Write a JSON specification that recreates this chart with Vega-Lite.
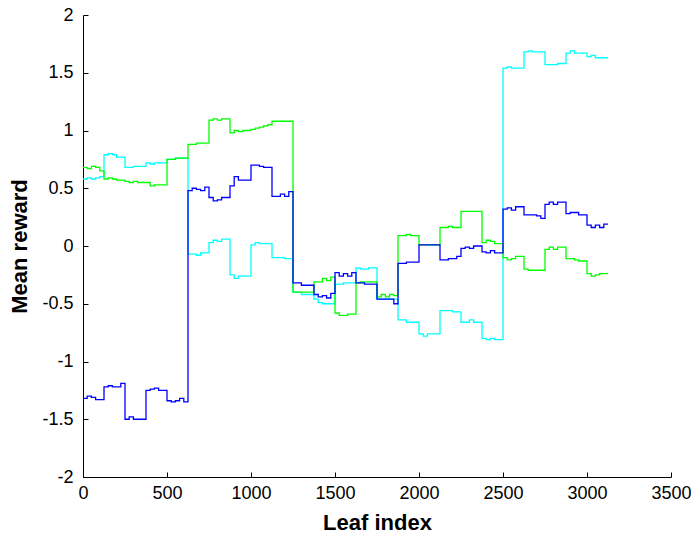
{
  "$schema": "https://vega.github.io/schema/vega-lite/v6.json",
  "width": 588,
  "height": 462,
  "autosize": {"type": "none"},
  "padding": {"left": 83, "top": 15, "right": 20, "bottom": 62},
  "background": "white",
  "config": {"view": {"stroke": null}, "font": "Liberation Sans"},
  "data": {"values": [
    {"s":"c","x":0,"y":0.58},{"s":"c","x":25,"y":0.59},{"s":"c","x":50,"y":0.58},{"s":"c","x":75,"y":0.59},{"s":"c","x":100,"y":0.6},
    {"s":"c","x":125,"y":0.79},{"s":"c","x":150,"y":0.8},{"s":"c","x":175,"y":0.79},{"s":"c","x":200,"y":0.77},
    {"s":"c","x":250,"y":0.68},{"s":"c","x":300,"y":0.69},
    {"s":"c","x":375,"y":0.72},{"s":"c","x":400,"y":0.71},{"s":"c","x":425,"y":0.72},
    {"s":"c","x":500,"y":0.75},{"s":"c","x":550,"y":0.76},
    {"s":"c","x":625,"y":-0.07},{"s":"c","x":675,"y":-0.08},{"s":"c","x":700,"y":-0.06},
    {"s":"c","x":750,"y":0.03},{"s":"c","x":775,"y":0.05},{"s":"c","x":800,"y":0.04},{"s":"c","x":825,"y":0.06},
    {"s":"c","x":875,"y":-0.25},{"s":"c","x":900,"y":-0.28},{"s":"c","x":925,"y":-0.26},
    {"s":"c","x":1000,"y":0.01},{"s":"c","x":1025,"y":0.03},{"s":"c","x":1050,"y":0.02},
    {"s":"c","x":1125,"y":-0.1},{"s":"c","x":1200,"y":-0.11},
    {"s":"c","x":1250,"y":-0.4},{"s":"c","x":1300,"y":-0.42},
    {"s":"c","x":1375,"y":-0.46},{"s":"c","x":1400,"y":-0.49},{"s":"c","x":1425,"y":-0.5},
    {"s":"c","x":1500,"y":-0.33},{"s":"c","x":1550,"y":-0.32},
    {"s":"c","x":1625,"y":-0.19},{"s":"c","x":1650,"y":-0.2},{"s":"c","x":1700,"y":-0.19},
    {"s":"c","x":1750,"y":-0.46},
    {"s":"c","x":1875,"y":-0.64},{"s":"c","x":1925,"y":-0.66},
    {"s":"c","x":2000,"y":-0.76},{"s":"c","x":2025,"y":-0.78},{"s":"c","x":2050,"y":-0.76},
    {"s":"c","x":2125,"y":-0.56},{"s":"c","x":2200,"y":-0.57},
    {"s":"c","x":2250,"y":-0.66},{"s":"c","x":2300,"y":-0.64},{"s":"c","x":2325,"y":-0.66},
    {"s":"c","x":2375,"y":-0.8},{"s":"c","x":2400,"y":-0.81},{"s":"c","x":2425,"y":-0.8},{"s":"c","x":2450,"y":-0.81},
    {"s":"c","x":2500,"y":1.54},{"s":"c","x":2525,"y":1.55},{"s":"c","x":2550,"y":1.54},
    {"s":"c","x":2625,"y":1.68},{"s":"c","x":2650,"y":1.69},{"s":"c","x":2675,"y":1.68},
    {"s":"c","x":2750,"y":1.57},{"s":"c","x":2825,"y":1.58},
    {"s":"c","x":2875,"y":1.67},{"s":"c","x":2900,"y":1.69},{"s":"c","x":2925,"y":1.67},
    {"s":"c","x":3000,"y":1.64},{"s":"c","x":3025,"y":1.65},{"s":"c","x":3050,"y":1.63},{"s":"c","x":3125,"y":1.63},

    {"s":"g","x":0,"y":0.68},{"s":"g","x":25,"y":0.67},{"s":"g","x":50,"y":0.69},{"s":"g","x":75,"y":0.68},{"s":"g","x":100,"y":0.65},
    {"s":"g","x":125,"y":0.58},{"s":"g","x":150,"y":0.59},{"s":"g","x":175,"y":0.58},{"s":"g","x":200,"y":0.57},
    {"s":"g","x":250,"y":0.56},{"s":"g","x":275,"y":0.55},{"s":"g","x":300,"y":0.56},{"s":"g","x":325,"y":0.55},
    {"s":"g","x":375,"y":0.55},{"s":"g","x":400,"y":0.52},{"s":"g","x":425,"y":0.53},
    {"s":"g","x":500,"y":0.75},{"s":"g","x":550,"y":0.76},
    {"s":"g","x":625,"y":0.88},{"s":"g","x":675,"y":0.89},
    {"s":"g","x":750,"y":1.09},{"s":"g","x":775,"y":1.1},{"s":"g","x":800,"y":1.09},{"s":"g","x":825,"y":1.1},
    {"s":"g","x":875,"y":0.98},{"s":"g","x":900,"y":1.0},{"s":"g","x":925,"y":0.99},{"s":"g","x":950,"y":1.0},
    {"s":"g","x":1000,"y":1.01},{"s":"g","x":1025,"y":1.02},{"s":"g","x":1050,"y":1.03},{"s":"g","x":1075,"y":1.04},{"s":"g","x":1100,"y":1.05},
    {"s":"g","x":1125,"y":1.08},
    {"s":"g","x":1250,"y":-0.4},
    {"s":"g","x":1375,"y":-0.31},{"s":"g","x":1425,"y":-0.28},{"s":"g","x":1450,"y":-0.3},{"s":"g","x":1475,"y":-0.27},
    {"s":"g","x":1500,"y":-0.58},{"s":"g","x":1525,"y":-0.6},{"s":"g","x":1575,"y":-0.59},
    {"s":"g","x":1625,"y":-0.32},{"s":"g","x":1650,"y":-0.31},
    {"s":"g","x":1750,"y":-0.44},{"s":"g","x":1775,"y":-0.42},{"s":"g","x":1800,"y":-0.44},{"s":"g","x":1825,"y":-0.42},{"s":"g","x":1850,"y":-0.43},
    {"s":"g","x":1875,"y":0.09},{"s":"g","x":1925,"y":0.1},{"s":"g","x":1950,"y":0.09},
    {"s":"g","x":2000,"y":0.01},
    {"s":"g","x":2125,"y":0.16},{"s":"g","x":2175,"y":0.17},{"s":"g","x":2200,"y":0.16},
    {"s":"g","x":2250,"y":0.3},
    {"s":"g","x":2375,"y":0.03},{"s":"g","x":2400,"y":0.05},{"s":"g","x":2425,"y":0.04},{"s":"g","x":2450,"y":0.02},
    {"s":"g","x":2500,"y":-0.1},{"s":"g","x":2525,"y":-0.12},{"s":"g","x":2550,"y":-0.11},{"s":"g","x":2575,"y":-0.09},
    {"s":"g","x":2625,"y":-0.2},{"s":"g","x":2650,"y":-0.21},
    {"s":"g","x":2750,"y":-0.03},{"s":"g","x":2775,"y":-0.01},{"s":"g","x":2800,"y":-0.03},{"s":"g","x":2825,"y":-0.01},
    {"s":"g","x":2875,"y":-0.11},{"s":"g","x":2925,"y":-0.12},{"s":"g","x":2950,"y":-0.13},
    {"s":"g","x":3000,"y":-0.24},{"s":"g","x":3025,"y":-0.26},{"s":"g","x":3050,"y":-0.25},{"s":"g","x":3075,"y":-0.24},{"s":"g","x":3125,"y":-0.24},

    {"s":"b","x":0,"y":-1.32},{"s":"b","x":25,"y":-1.3},{"s":"b","x":50,"y":-1.31},{"s":"b","x":75,"y":-1.33},
    {"s":"b","x":125,"y":-1.22},{"s":"b","x":150,"y":-1.21},{"s":"b","x":175,"y":-1.22},{"s":"b","x":225,"y":-1.19},
    {"s":"b","x":250,"y":-1.5},{"s":"b","x":275,"y":-1.48},{"s":"b","x":300,"y":-1.5},
    {"s":"b","x":375,"y":-1.25},{"s":"b","x":400,"y":-1.24},{"s":"b","x":425,"y":-1.23},{"s":"b","x":450,"y":-1.25},
    {"s":"b","x":500,"y":-1.34},{"s":"b","x":525,"y":-1.35},{"s":"b","x":550,"y":-1.34},{"s":"b","x":575,"y":-1.32},{"s":"b","x":600,"y":-1.35},
    {"s":"b","x":625,"y":0.48},{"s":"b","x":650,"y":0.5},{"s":"b","x":675,"y":0.49},{"s":"b","x":700,"y":0.48},{"s":"b","x":725,"y":0.51},
    {"s":"b","x":750,"y":0.42},{"s":"b","x":775,"y":0.39},{"s":"b","x":800,"y":0.4},{"s":"b","x":825,"y":0.42},
    {"s":"b","x":875,"y":0.52},{"s":"b","x":900,"y":0.6},{"s":"b","x":925,"y":0.57},
    {"s":"b","x":1000,"y":0.7},{"s":"b","x":1050,"y":0.69},{"s":"b","x":1075,"y":0.68},
    {"s":"b","x":1125,"y":0.43},{"s":"b","x":1175,"y":0.45},{"s":"b","x":1200,"y":0.43},{"s":"b","x":1225,"y":0.47},
    {"s":"b","x":1250,"y":-0.32},{"s":"b","x":1300,"y":-0.34},
    {"s":"b","x":1375,"y":-0.42},{"s":"b","x":1400,"y":-0.44},{"s":"b","x":1425,"y":-0.43},{"s":"b","x":1450,"y":-0.45},{"s":"b","x":1475,"y":-0.41},
    {"s":"b","x":1500,"y":-0.23},{"s":"b","x":1525,"y":-0.26},{"s":"b","x":1550,"y":-0.24},{"s":"b","x":1575,"y":-0.26},{"s":"b","x":1600,"y":-0.23},
    {"s":"b","x":1625,"y":-0.32},{"s":"b","x":1675,"y":-0.33},
    {"s":"b","x":1750,"y":-0.46},{"s":"b","x":1850,"y":-0.5},
    {"s":"b","x":1875,"y":-0.15},{"s":"b","x":1925,"y":-0.14},
    {"s":"b","x":2000,"y":0.01},
    {"s":"b","x":2125,"y":-0.12},{"s":"b","x":2175,"y":-0.11},{"s":"b","x":2225,"y":-0.09},
    {"s":"b","x":2250,"y":-0.02},{"s":"b","x":2275,"y":-0.01},{"s":"b","x":2300,"y":-0.02},{"s":"b","x":2325,"y":0.0},
    {"s":"b","x":2375,"y":-0.05},{"s":"b","x":2400,"y":-0.06},{"s":"b","x":2425,"y":-0.04},{"s":"b","x":2450,"y":-0.06},
    {"s":"b","x":2500,"y":0.32},{"s":"b","x":2525,"y":0.33},{"s":"b","x":2550,"y":0.31},{"s":"b","x":2575,"y":0.34},
    {"s":"b","x":2625,"y":0.27},{"s":"b","x":2700,"y":0.26},{"s":"b","x":2725,"y":0.24},
    {"s":"b","x":2750,"y":0.36},{"s":"b","x":2775,"y":0.38},{"s":"b","x":2800,"y":0.36},{"s":"b","x":2825,"y":0.38},
    {"s":"b","x":2875,"y":0.28},{"s":"b","x":2900,"y":0.29},{"s":"b","x":2950,"y":0.27},
    {"s":"b","x":3000,"y":0.18},{"s":"b","x":3025,"y":0.16},{"s":"b","x":3050,"y":0.18},{"s":"b","x":3075,"y":0.16},{"s":"b","x":3100,"y":0.19},{"s":"b","x":3125,"y":0.19}
  ]},
  "encoding": {
    "x": {"field": "x", "type": "quantitative",
      "scale": {"domain": [0, 3500], "nice": false, "zero": false},
      "axis": {"title": "Leaf index", "values": [0,500,1000,1500,2000,2500,3000,3500],
        "labelExpr": "datum.value + ''", "grid": false, "tickSize": -5, "labelPadding": 12,
        "domainColor": "black", "tickColor": "black", "labelColor": "black",
        "labelFontSize": 18, "labelFont": "Liberation Sans", "labelFlush": false, "labelOverlap": false,
        "titleFontSize": 22, "titleFontWeight": "bold", "titleFont": "Liberation Sans", "titleColor": "black", "titlePadding": 10}},
    "y": {"field": "y", "type": "quantitative",
      "scale": {"domain": [-2, 2], "nice": false, "zero": false},
      "axis": {"title": "Mean reward", "values": [-2,-1.5,-1,-0.5,0,0.5,1,1.5,2],
        "labelExpr": "datum.value + ''", "grid": false, "tickSize": -5, "labelPadding": 15,
        "domainColor": "black", "tickColor": "black", "labelColor": "black",
        "labelFontSize": 18, "labelFont": "Liberation Sans", "labelFlush": false, "labelOverlap": false,
        "titleFontSize": 22, "titleFontWeight": "bold", "titleFont": "Liberation Sans", "titleColor": "black", "titlePadding": 10}}
  },
  "layer": [
    {"transform": [{"filter": {"field": "s", "equal": "c"}}], "mark": {"type": "line", "interpolate": "step-after", "color": "#00FFFF", "strokeWidth": 1.3}},
    {"transform": [{"filter": {"field": "s", "equal": "g"}}], "mark": {"type": "line", "interpolate": "step-after", "color": "#00FF00", "strokeWidth": 1.3}},
    {"transform": [{"filter": {"field": "s", "equal": "b"}}], "mark": {"type": "line", "interpolate": "step-after", "color": "#0000FF", "strokeWidth": 1.3}}
  ]
}
